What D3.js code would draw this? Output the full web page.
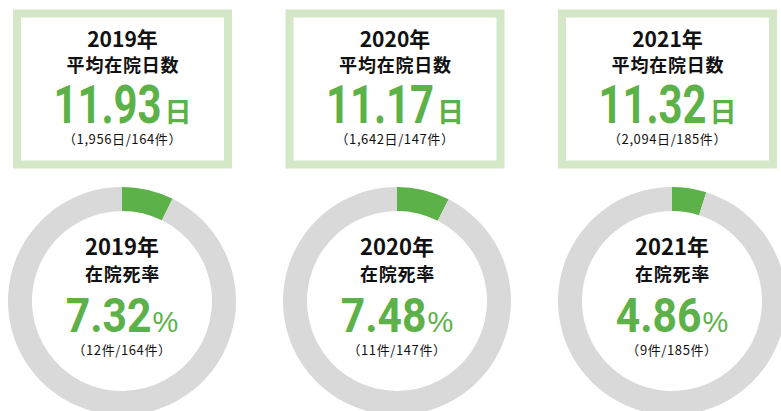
<!DOCTYPE html>
<html>
<head>
<meta charset="utf-8">
<style>
  body { margin: 0; background: #fff; }
</style>
</head>
<body>
<div id="chart"></div>
<script src="https://d3js.org/d3.v7.min.js"></script>
<script>
    const width = 781;
    const height = 411;

    // data
    const years = ["2019", "2020", "2021"];
    const avgStay = ["11.93", "11.17", "11.32"];
    const totalDays = ["1,956", "1,642", "2,094"];
    const patients = [164, 147, 185];
    const deaths = [12, 11, 9];
    const deathRate = ["7.32", "7.48", "4.86"];

    const green = "#5cb248";
    const paleGreen = "#d4e7c6";
    const ringGray = "#d9d9d9";
    const ink = "#111";
    const jp = "'Noto Sans CJK JP', 'Noto Sans', sans-serif";
    const numFont = "Roboto, 'Liberation Sans', sans-serif";

    const svg = d3.select("#chart")
        .append("svg")
        .attr("width", width)
        .attr("height", height);

    const boxX = d3.scalePoint().domain(years).range([122.5, 667.5]);
    const ringX = d3.scalePoint().domain(years).range([122, 672]);

    // number + unit, centred as one group; number squeezed horizontally
    function bigValue(g, cx, y, num, unit, o) {
        const ng = g.append("g");
        const t1 = ng.append("text")
            .attr("font-family", numFont)
            .attr("font-weight", "bold")
            .attr("font-size", o.numSize)
            .attr("fill", green)
            .text(num);
        const t2 = g.append("text")
            .attr("y", y + (o.unitDy || 0))
            .attr("font-family", o.unitFont)
            .attr("font-weight", o.unitWeight)
            .attr("font-size", o.unitSize)
            .attr("fill", green)
            .text(unit);
        const w1 = t1.node().getComputedTextLength() * o.sx;
        const w2 = t2.node().getComputedTextLength();
        const x0 = cx - (w1 + o.gap + w2) / 2;
        ng.attr("transform", `translate(${x0},${y}) scale(${o.sx},1)`);
        t2.attr("x", x0 + w1 + o.gap);
    }

    function label(g, cx, y, txt, size, weight, spacing) {
        g.append("text")
            .attr("x", cx)
            .attr("y", y)
            .attr("text-anchor", "middle")
            .attr("font-family", jp)
            .attr("font-weight", weight)
            .attr("font-size", size)
            .attr("letter-spacing", spacing || 0)
            .attr("fill", ink)
            .text(txt);
    }

    // top boxes: average length of stay
    years.forEach((yr, i) => {
        const cx = boxX(yr);
        const g = svg.append("g");
        g.append("rect")
            .attr("x", cx - 105.5)
            .attr("y", 13.5)
            .attr("width", 211)
            .attr("height", 151)
            .attr("fill", "#fff")
            .attr("stroke", paleGreen)
            .attr("stroke-width", 8);
        label(g, cx, 47, yr + "年", 21, "bold");
        label(g, cx + 0.5, 71.5, "平均在院日数", 18, "bold", 0.8);
        bigValue(g, cx, 123, avgStay[i], "日",
            { numSize: 53, sx: 0.79, unitSize: 27, unitFont: jp, unitWeight: "bold", gap: 3, unitDy: -1.5 });
        label(g, cx, 144, "（" + totalDays[i] + "日/" + patients[i] + "件）", 13, "normal", 0.6);
    });

    // donuts: in-hospital mortality
    const pie = d3.pie().sort(null).value(d => d);
    const arc = d3.arc().innerRadius(90).outerRadius(114);

    years.forEach((yr, i) => {
        const cx = ringX(yr);
        const cy = 301;
        const g = svg.append("g");
        const ring = g.append("g").attr("transform", `translate(${cx},${cy})`);
        ring.selectAll("path")
            .data(pie([deaths[i], patients[i] - deaths[i]]))
            .join("path")
            .attr("d", arc)
            .attr("fill", (d, j) => j === 0 ? green : ringGray);

        label(g, cx, 255, yr + "年", 22, "bold");
        label(g, cx + 0.5, 280.5, "在院死率", 18, "bold", 0.8);
        bigValue(g, cx, 332, deathRate[i], "%",
            { numSize: 49, sx: 0.87, unitSize: 29, unitFont: "'Liberation Sans', Arial, sans-serif", unitWeight: "normal", gap: 1 });
        label(g, cx, 355, "（" + deaths[i] + "件/" + patients[i] + "件）", 13, "normal", 0.6);
    });
</script>
</body>
</html>
